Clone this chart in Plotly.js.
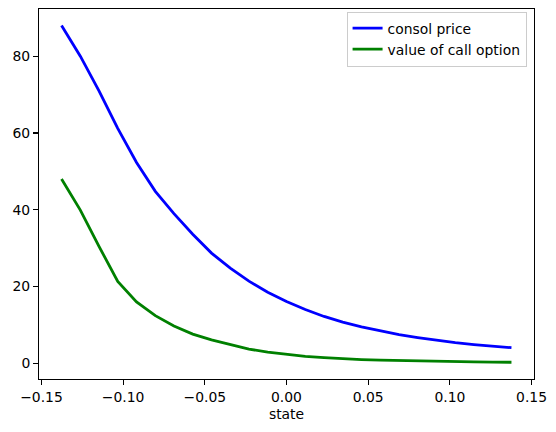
<!DOCTYPE html>
<html>
<head>
<meta charset="utf-8">
<script src="https://cdn.plot.ly/plotly-3.0.1.min.js"></script>
<style>
  html, body { margin: 0; padding: 0; background: #fff; }
  #chart { width: 556px; height: 432px; }
</style>
</head>
<body>
<div id="chart"></div>
<script>
// 25 grid states (Tauchen discretisation)
var state = [
    -0.1377, -0.1262, -0.1147, -0.1033, -0.0918, -0.0803, -0.0689, -0.0574,
    -0.0459, -0.0344, -0.0230, -0.0115, 0.0, 0.0115, 0.0230, 0.0344,
    0.0459, 0.0574, 0.0689, 0.0803, 0.0918, 0.1033, 0.1147, 0.1262, 0.1377
];
var consolPrice = [
    88.0, 80.0, 70.9, 61.2, 52.3, 44.8, 39.0, 33.6,
    28.7, 24.8, 21.4, 18.5, 16.1, 14.0, 12.2, 10.7,
    9.5, 8.4, 7.45, 6.7, 6.0, 5.35, 4.85, 4.4, 4.05
];
var callValue = [
    48.0, 39.9, 30.4, 21.3, 16.0, 12.4, 9.7, 7.6,
    6.1, 4.8, 3.7, 2.9, 2.3, 1.8, 1.45, 1.15,
    0.95, 0.8, 0.68, 0.58, 0.5, 0.43, 0.37, 0.31, 0.26
];
var xTicks = [-0.15, -0.10, -0.05, 0.0, 0.05, 0.10, 0.15];
var yTicks = [0, 20, 40, 60, 80];

var font = { family: "DejaVu Sans", size: 13.9, color: "#000" };

var traces = [
    {
        x: state,
        y: consolPrice,
        type: "scatter",
        mode: "lines",
        name: "consol price",
        line: { color: "#0000ff", width: 2.8 },
    },
    {
        x: state,
        y: callValue,
        type: "scatter",
        mode: "lines",
        name: "value of call option",
        line: { color: "#008000", width: 2.8 },
    },
];

var axisStyle = {
    showgrid: false,
    zeroline: false,
    showline: true,
    mirror: true,
    linecolor: "#000",
    linewidth: 1.1,
    ticks: "outside",
    ticklen: 4.9,
    tickwidth: 1.1,
    tickcolor: "#000",
    tickfont: font,
};

var layout = {
    width: 556,
    height: 432,
    margin: { l: 39, r: 22, t: 9, b: 53 },
    paper_bgcolor: "#fff",
    plot_bgcolor: "#fff",
    font: font,
    showlegend: true,
    legend: {
        x: 0.985,
        y: 0.993,
        xanchor: "right",
        yanchor: "top",
        bgcolor: "rgba(255,255,255,0.8)",
        bordercolor: "#cccccc",
        borderwidth: 1,
        font: font,
        tracegroupgap: 0,
    },
    xaxis: Object.assign({}, axisStyle, {
        range: [-0.1515, 0.1515],
        tickvals: xTicks,
        tickformat: ".2f",
        title: { text: "state", font: font, standoff: 5 },
    }),
    yaxis: Object.assign({}, axisStyle, {
        range: [-4.1, 92.3],
        tickvals: yTicks,
    }),
};

Plotly.newPlot("chart", traces, layout, { displayModeBar: false, staticPlot: true });
</script>
</body>
</html>
